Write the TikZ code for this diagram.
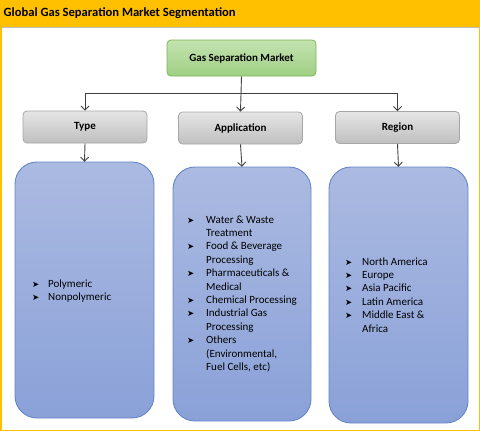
\documentclass[tikz,border=0pt]{standalone}
\usepackage{fontspec}
\setmainfont{Carlito}
\newfontfamily\dvs{DejaVu Sans}
\usetikzlibrary{arrows.meta}
\definecolor{hdr}{HTML}{FFC000}
\definecolor{conn}{HTML}{404040}
\definecolor{bigtop}{HTML}{ABBAE1}
\definecolor{bigbot}{HTML}{8AA1D8}
\definecolor{bigline}{HTML}{6586C9}
\definecolor{topline}{HTML}{7CB55A}
\definecolor{toptop}{HTML}{C3E3B0}
\definecolor{topbot}{HTML}{9FCF83}
\newcommand{\bul}{{\dvs\fontsize{8.5}{8.5}\selectfont ➤}}
\tikzset{
  conn/.style={draw=conn, line width=0.9pt, -{Straight Barb[length=4pt,width=8pt]}},
  topbox/.style={draw=topline, line width=0.8pt, rounded corners=4pt,
    top color=toptop, bottom color=topbot,
    minimum width=149pt, minimum height=36pt, font=\fontsize{11}{12}\selectfont\bfseries},
  catbox/.style={draw=black!35, line width=0.8pt, rounded corners=4pt,
    top color=black!10, bottom color=black!25,
    minimum width=124pt, minimum height=32pt, font=\fontsize{11}{12}\selectfont\bfseries},
  bigbox/.style={draw=bigline, line width=0.9pt, rounded corners=22pt,
    top color=bigtop, bottom color=bigbot, inner sep=0pt},
  listtxt/.style={anchor=north west, inner sep=0pt, align=left,
    font=\fontsize{11}{13.4}\selectfont},
}
\begin{document}
\begin{tikzpicture}[x=1pt,y=-1pt]
\useasboundingbox (0,0) rectangle (480,431);
% header and frame
\fill[hdr] (0,0) rectangle (480,27);
\draw[hdr, line width=1.5pt] (0.75,0.75) rectangle (479.25,430.25);
\draw[black!25, line width=0.6pt] (1.5,27.3) -- (478.5,27.3);
\node[anchor=west, inner sep=0pt, font=\fontsize{12.6}{14}\selectfont\bfseries] (title) at (3.5,13.5) {Global Gas Separation Market Segmentation};
% top node
\node[topbox] (gsm) at (241.5,58) {Gas Separation Market};
% category nodes
\node[catbox] (type) at (85,127) {Type};
\node[catbox] (app) at (240.5,128) {Application};
\node[catbox] (reg) at (397.5,127.5) {Region};
% big boxes
\path[bigbox] (15,162) rectangle (154,418);
\node[inner sep=0pt, minimum width=139pt, minimum height=256pt] (tbig) at (84.5,290) {};
\path[bigbox] (173,167) rectangle (311,421);
\node[inner sep=0pt, minimum width=138pt, minimum height=254pt] (abig) at (242,294) {};
\path[bigbox] (329,167) rectangle (468,423);
\node[inner sep=0pt, minimum width=139pt, minimum height=256pt] (rbig) at (398.5,295) {};
% connectors
\coordinate (bus) at (241.5,93);
\draw[conn] (gsm.south) -- (app.north);
\draw[conn] (bus) -| (type.north);
\draw[conn] (bus) -| (reg.north);
\draw[conn] (type.south) -- (tbig.north);
\draw[conn] (app.south) -- (abig.north);
\draw[conn] (reg.south) -- (rbig.north);
% lists
\node[listtxt] (tlist) at (32,277.5) {%
\begin{tabular}{@{}p{16pt}@{}l@{}}
\bul & Polymeric\\
\bul & Nonpolymeric
\end{tabular}};
\node[listtxt] (alist) at (187,213.5) {%
\begin{tabular}{@{}p{19pt}@{}l@{}}
\bul & Water \& Waste\\
 & Treatment\\
\bul & Food \& Beverage\\
 & Processing\\
\bul & Pharmaceuticals \&\\
 & Medical\\
\bul & Chemical Processing\\
\bul & Industrial Gas\\
 & Processing\\
\bul & Others\\
 & (Environmental,\\
 & Fuel Cells, etc)
\end{tabular}};
\node[listtxt] (rlist) at (345,255.5) {%
\begin{tabular}{@{}p{17pt}@{}l@{}}
\bul & North America\\
\bul & Europe\\
\bul & Asia Pacific\\
\bul & Latin America\\
\bul & Middle East \&\\
 & Africa
\end{tabular}};
\end{tikzpicture}
\end{document}
